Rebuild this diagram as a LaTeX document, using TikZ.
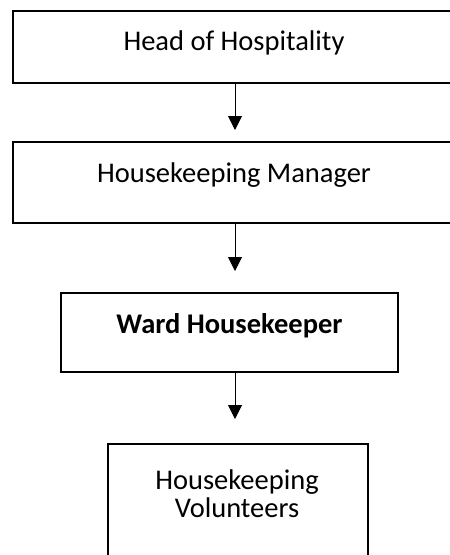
\documentclass[tikz,border=0pt]{standalone}
\usepackage{fontspec}
\setmainfont{Carlito}
\usetikzlibrary{arrows.meta}
\begin{document}
\begin{tikzpicture}[x=1pt,y=-1pt,
  orgbox/.style={draw=black,line width=1.3pt,rectangle,inner sep=0pt,
    font=\fontsize{28.5}{25}\selectfont},
  link/.style={line width=1pt,-{Triangle[width=14pt,length=14pt]}}]
\useasboundingbox (0,0) rectangle (450,555);
\clip (0,0) rectangle (450,555);
\node[orgbox,minimum width=442pt,minimum height=72pt,text height=39pt,text depth=33pt]
  (b1) at (234,47) {Head of Hospitality};
\node[orgbox,minimum width=442pt,minimum height=81pt,text height=40pt,text depth=41pt]
  (b2) at (234,182.5) {Housekeeping Manager};
\node[orgbox,minimum width=337pt,minimum height=79pt,text height=40pt,text depth=39pt]
  (b3) at (229.5,332.5) {\bfseries Ward Housekeeper};
\node[orgbox,minimum width=260pt,minimum height=126pt] (b4) at (238,507) {};
\node[anchor=north,inner sep=0pt,align=center,font=\fontsize{28.5}{27.5}\selectfont]
  (t4) at (237,470) {Housekeeping\\Volunteers};
\coordinate (e1) at (235,130);
\coordinate (e2) at (235,271);
\coordinate (e3) at (235,419);
\draw[link] (b1.south -| e1) -- (e1);
\draw[link] (b2.south -| e2) -- (e2);
\draw[link] (b3.south -| e3) -- (e3);
\end{tikzpicture}
\end{document}
